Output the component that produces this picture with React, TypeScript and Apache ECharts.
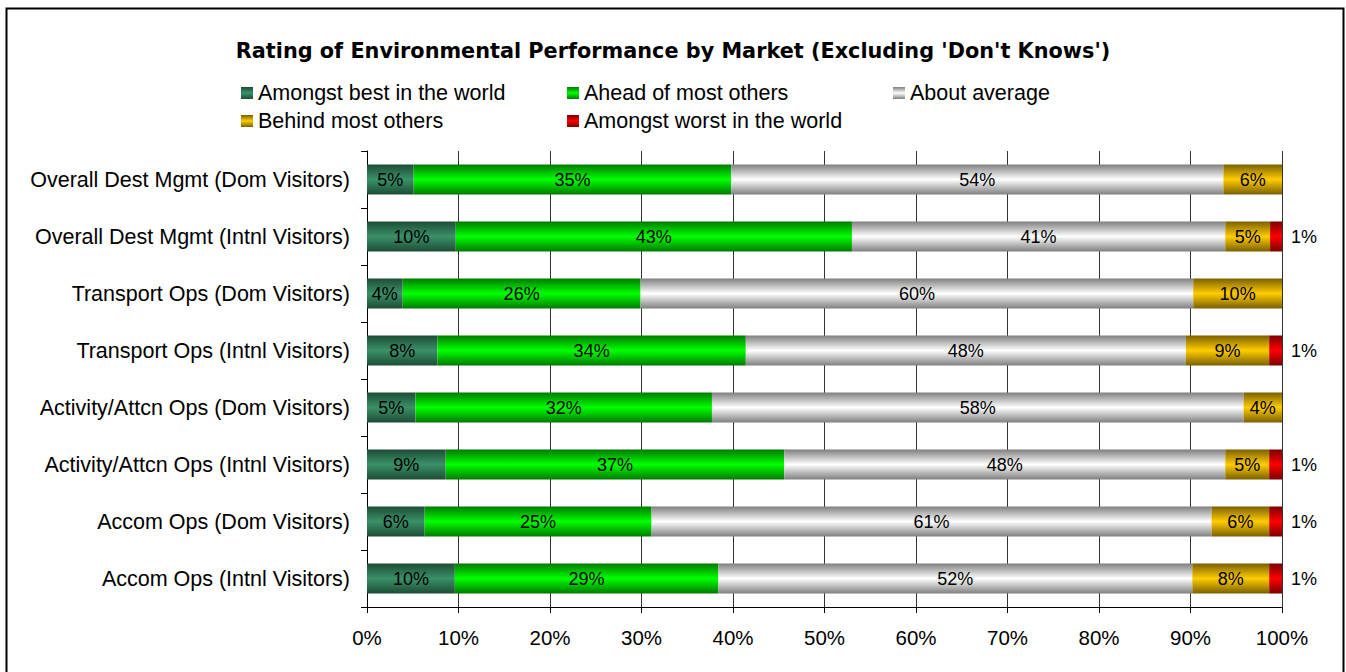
import React, { useEffect, useRef } from "react";
import * as echarts from "echarts";

const categories = [
  "Overall Dest Mgmt (Dom Visitors)",
  "Overall Dest Mgmt (Intnl Visitors)",
  "Transport Ops (Dom Visitors)",
  "Transport Ops (Intnl Visitors)",
  "Activity/Attcn Ops (Dom Visitors)",
  "Activity/Attcn Ops (Intnl Visitors)",
  "Accom Ops (Dom Visitors)",
  "Accom Ops (Intnl Visitors)",
];

const seriesNames = [
  "Amongst best in the world",
  "Ahead of most others",
  "About average",
  "Behind most others",
  "Amongst worst in the world",
];

const amongstBest = [5.1, 9.7, 3.9, 7.7, 5.3, 8.6, 6.3, 9.6];
const aheadOfMost = [34.7, 43.3, 26.0, 33.7, 32.4, 37.0, 24.8, 28.8];
const aboutAverage = [53.8, 40.8, 60.4, 48.1, 58.1, 48.2, 61.2, 51.8];
const behindMost = [6.4, 4.9, 9.7, 9.1, 4.2, 4.8, 6.3, 8.4];
const amongstWorst = [0, 1.3, 0, 1.4, 0, 1.4, 1.4, 1.4];

const xTicks = [0, 10, 20, 30, 40, 50, 60, 70, 80, 90, 100];

const FONT = "Liberation Sans, Arial, sans-serif";

function grad(edge: string, mid: string) {
  return new echarts.graphic.LinearGradient(0, 0, 0, 1, [
    { offset: 0, color: edge },
    { offset: 0.5, color: mid },
    { offset: 1, color: edge },
  ]);
}

export default function App() {
  const ref = useRef<HTMLDivElement>(null);
  useEffect(() => {
    if (!ref.current) return;
    const chart = echarts.init(ref.current, null, { renderer: "svg" });
    const colors = [
      grad("#1d4d36", "#3a9168"),
      grad("#007a00", "#00ff00"),
      grad("#7f7f7f", "#ffffff"),
      grad("#7a6000", "#ffcc00"),
      grad("#7a0000", "#ff0000"),
    ];
    const dataSets = [amongstBest, aheadOfMost, aboutAverage, behindMost, amongstWorst];
    const legendPos = [
      [241, 82],
      [567, 82],
      [893, 82],
      [241, 110],
      [567, 110],
    ];
    const option: any = {
      animation: false,
      backgroundColor: "#ffffff",
      title: {
        text: "Rating of Environmental Performance by Market (Excluding 'Don't Knows')",
        left: "center",
        top: 35,
        textStyle: {
          fontFamily: "DejaVu Sans, sans-serif",
          fontWeight: "bold",
          fontSize: 20.8,
          color: "#000",
        },
      },
      legend: seriesNames.map((n, i) => ({
        data: [n],
        left: legendPos[i][0],
        top: legendPos[i][1],
        icon: "rect",
        itemWidth: 12,
        itemHeight: 12,
        padding: 0,
        selectedMode: false,
        textStyle: { fontFamily: FONT, fontSize: 21.5, color: "#000" },
      })),
      grid: { left: 367, right: 64, top: 151, bottom: 65, containLabel: false },
      xAxis: {
        type: "value",
        min: 0,
        max: 100,
        interval: 10,
        axisLine: { show: true, lineStyle: { color: "#000", width: 1 } },
        axisTick: { show: true, length: 6, lineStyle: { color: "#000" } },
        splitLine: { show: true, lineStyle: { color: "#333", width: 1 } },
        axisLabel: {
          fontFamily: FONT,
          fontSize: 20.5,
          color: "#000",
          margin: 20,
          formatter: (v: number) => (xTicks.includes(v) ? v + "%" : ""),
        },
      },
      yAxis: {
        type: "category",
        data: categories,
        inverse: true,
        axisLine: { show: true, lineStyle: { color: "#000", width: 1 } },
        axisTick: { show: true, length: 6, lineStyle: { color: "#000" } },
        axisLabel: { fontFamily: FONT, fontSize: 21.5, color: "#000", margin: 17 },
      },
      series: seriesNames.map((n, i) => ({
        name: n,
        type: "bar",
        stack: "total",
        barWidth: 30,
        itemStyle: { color: colors[i] },
        data: dataSets[i].map((v) => (v > 0 ? v : null)),
        label: {
          show: true,
          position: i === 4 ? "right" : "inside",
          distance: 9,
          fontFamily: FONT,
          fontSize: 18,
          color: "#000",
          formatter: (p: any) => (p.value ? Math.round(p.value) + "%" : ""),
        },
      })),
      graphic: [
        {
          type: "rect",
          shape: { x: 6.5, y: 8.5, width: 1337, height: 700 },
          style: { fill: "none", stroke: "#000", lineWidth: 2 },
          silent: true,
        },
      ],
    };
    chart.setOption(option);
    return () => chart.dispose();
  }, []);
  return (
    <div
      ref={ref}
      style={{ position: "fixed", left: 0, top: 0, width: 1346, height: 672 }}
    />
  );
}
